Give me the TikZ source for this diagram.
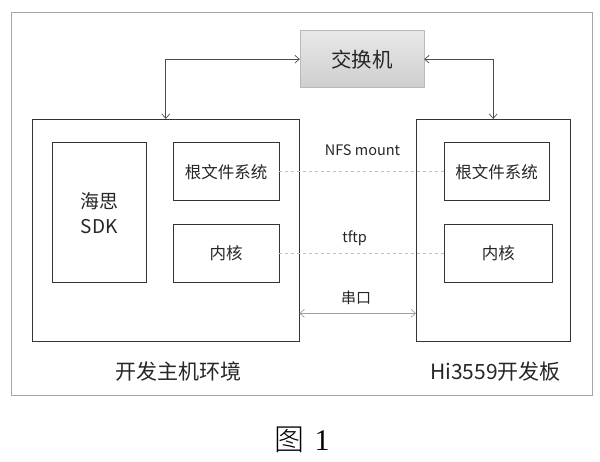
\documentclass[tikz,border=0pt]{standalone}
\usepackage{fontspec}
\setmainfont{Noto Sans CJK SC}
\newfontfamily\capfont{Noto Sans CJK SC Light}
\newfontfamily\capnum{Liberation Serif}
\usetikzlibrary{arrows.meta,positioning,calc}

\begin{document}
\begin{tikzpicture}[
        x=1pt, y=-1pt,
        envBox/.style={
            draw=black!80,
            line width=0.8pt,
            inner sep=0pt,
            text=black!85
        },
        partBox/.style={
            envBox,
            font=\fontsize{16.5}{18}\selectfont
        },
        switchBox/.style={
            draw=gray!55,
            top color=gray!18,
            bottom color=gray!38,
            inner sep=0pt,
            minimum width=124pt,
            minimum height=57pt,
            font=\fontsize{20.5}{22}\selectfont,
            text=black!85
        },
        link/.style={
            {Straight Barb[length=4.5pt,width=8pt]}-{Straight Barb[length=4.5pt,width=8pt]},
            line width=0.7pt,
            draw=black!70
        },
        serial/.style={
            link,
            draw=gray!75
        },
        share/.style={
            dashed,
            line width=0.6pt,
            draw=gray!50
        },
        labelText/.style={
            font=\fontsize{14.5}{16}\selectfont,
            text=black!85
        },
        envText/.style={
            font=\fontsize{21}{23}\selectfont,
            text=black!85
        }
    ]

        \useasboundingbox (0,0) rectangle (600,462);

        % Outer frame
        \node[draw=gray!70, line width=0.8pt, minimum width=580.5pt, minimum height=383pt]
            (frame) at (301.7,204.2) {};

        % Switch
        \node[switchBox] (switch) at (362,59.2) {交换机};

        % Host and board
        \node[envBox, minimum width=266.3pt, minimum height=222.4pt] (host) at (165.8,230.5) {};
        \node[envBox, minimum width=153.5pt, minimum height=222.4pt] (board) at (493.2,230.5) {};

        % Host parts
        \node[partBox, minimum width=93.3pt, minimum height=140pt, align=center,
              font=\fontsize{19}{25}\selectfont] (sdk) at (99.3,212.7) {海思\\SDK};
        \node[partBox, minimum width=106pt, minimum height=58pt] (rootL) at (226,171.7) {根文件系统};
        \node[partBox, minimum width=106pt, minimum height=58.7pt] (kernelL) at (226,253.3) {内核};

        % Board parts
        \node[partBox, minimum width=105pt, minimum height=58pt] (rootR) at (496.5,171.7) {根文件系统};
        \node[partBox, minimum width=108.7pt, minimum height=58.7pt] (kernelR) at (498.3,253.3) {内核};

        % Network links
        \draw[link] (switch.west) -| (host.north);
        \draw[link] (switch.east) -| (board.north);

        % Shared files
        \draw[share] (rootL) -- (rootR);
        \draw[share] (kernelL) -- (kernelR);
        \node[labelText] (nfs) at (362.5,150) {NFS mount};
        \node[labelText] (tftp) at (354.6,238) {tftp};

        % Serial port
        \draw[serial] (host.east |- 0,313.3) -- (board.west |- 0,313.3);
        \node[labelText, font=\fontsize{15}{17}\selectfont] (uart) at (356,298) {串口};

        % Environment labels
        \node[envText] (hostLabel) at (178.5,371.7) {开发主机环境};
        \node[envText] (boardLabel) at (495.6,371.7) {Hi3559开发板};

        % Caption
        \node[font=\fontsize{30}{32}\selectfont] (caption) at (302,440)
            {\capfont 图\,\,\capnum 1};

    \end{tikzpicture}
\end{document}
